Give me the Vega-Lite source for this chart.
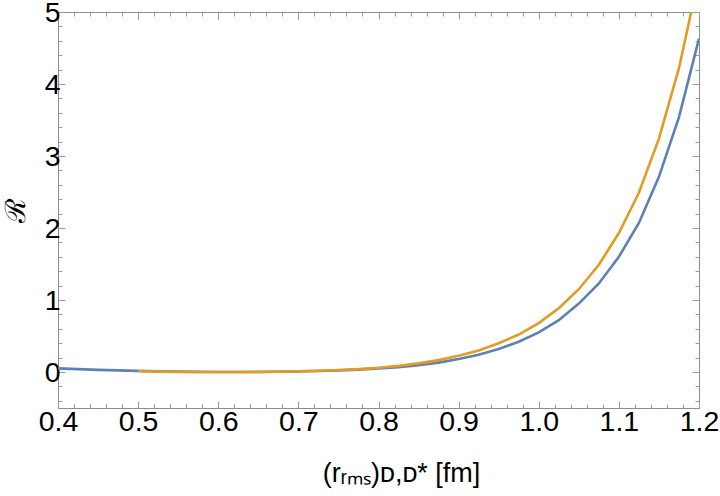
{
  "$schema": "https://vega.github.io/schema/vega-lite/v6.json",
  "width": 641,
  "height": 396,
  "autosize": {"type": "none"},
  "padding": {"left": 58, "top": 12, "right": 21, "bottom": 88},
  "background": "white",
  "config": {
    "view": {"stroke": "#8c8c8c", "strokeWidth": 1},
    "axis": {
      "domain": false,
      "grid": false,
      "tickColor": "#9a9a9a",
      "tickWidth": 1,
      "labelFont": "Liberation Sans",
      "labelFontSize": 28.5,
      "labelColor": "#000000",
      "titleColor": "#000000",
      "titleFontWeight": "normal"
    }
  },
  "datasets": {
    "blue": [
      {"x": 0.4, "R": 0.05}, {"x": 0.425, "R": 0.04}, {"x": 0.45, "R": 0.03}, {"x": 0.475, "R": 0.022},
      {"x": 0.5, "R": 0.015}, {"x": 0.525, "R": 0.009}, {"x": 0.55, "R": 0.005}, {"x": 0.575, "R": 0.002},
      {"x": 0.6, "R": 0.0}, {"x": 0.625, "R": 0.0}, {"x": 0.65, "R": 0.001}, {"x": 0.675, "R": 0.004},
      {"x": 0.7, "R": 0.008}, {"x": 0.725, "R": 0.014}, {"x": 0.75, "R": 0.022}, {"x": 0.775, "R": 0.033},
      {"x": 0.8, "R": 0.048}, {"x": 0.825, "R": 0.068}, {"x": 0.85, "R": 0.095}, {"x": 0.875, "R": 0.13},
      {"x": 0.9, "R": 0.18}, {"x": 0.925, "R": 0.24}, {"x": 0.95, "R": 0.32}, {"x": 0.975, "R": 0.42},
      {"x": 1.0, "R": 0.55}, {"x": 1.025, "R": 0.72}, {"x": 1.05, "R": 0.95}, {"x": 1.075, "R": 1.23},
      {"x": 1.1, "R": 1.6}, {"x": 1.125, "R": 2.07}, {"x": 1.15, "R": 2.71}, {"x": 1.175, "R": 3.54},
      {"x": 1.2, "R": 4.63}
    ],
    "orange": [
      {"x": 0.5, "R": 0.01}, {"x": 0.525, "R": 0.005}, {"x": 0.55, "R": 0.002}, {"x": 0.575, "R": 0.0},
      {"x": 0.6, "R": 0.0}, {"x": 0.625, "R": 0.0}, {"x": 0.65, "R": 0.002}, {"x": 0.675, "R": 0.005},
      {"x": 0.7, "R": 0.01}, {"x": 0.725, "R": 0.017}, {"x": 0.75, "R": 0.027}, {"x": 0.775, "R": 0.04},
      {"x": 0.8, "R": 0.06}, {"x": 0.825, "R": 0.085}, {"x": 0.85, "R": 0.12}, {"x": 0.875, "R": 0.165},
      {"x": 0.9, "R": 0.225}, {"x": 0.925, "R": 0.3}, {"x": 0.95, "R": 0.4}, {"x": 0.975, "R": 0.52},
      {"x": 1.0, "R": 0.68}, {"x": 1.025, "R": 0.885}, {"x": 1.05, "R": 1.15}, {"x": 1.075, "R": 1.49},
      {"x": 1.1, "R": 1.93}, {"x": 1.125, "R": 2.49}, {"x": 1.15, "R": 3.24}, {"x": 1.175, "R": 4.22},
      {"x": 1.2, "R": 5.5}
    ]
  },
  "resolve": {"axis": {"x": "independent", "y": "independent"}},
  "layer": [
    {
      "data": {"name": "blue"},
      "mark": {"type": "line", "color": "#5e81b5", "strokeWidth": 2.6, "clip": true},
      "encoding": {
        "x": {
          "field": "x", "type": "quantitative",
          "scale": {"domain": [0.4, 1.2], "nice": false, "zero": false},
          "axis": {
            "orient": "bottom",
            "title": "(rᵣₘₛ)ᴅ,ᴅ* [fm]",
            "titleFont": "Liberation Sans",
            "titleFontSize": 27,
            "titlePadding": 22,
            "titleX": 343,
            "values": [0.4,0.42,0.44,0.46,0.48,0.5,0.52,0.54,0.56,0.58,0.6,0.62,0.64,0.66,0.68,0.7,0.72,0.74,0.76,0.78,0.8,0.82,0.84,0.86,0.88,0.9,0.92,0.94,0.96,0.98,1.0,1.02,1.04,1.06,1.08,1.1,1.12,1.14,1.16,1.18,1.2],
            "labelExpr": "abs(datum.value*10 - round(datum.value*10)) < 1e-6 ? format(datum.value, '.1f') : ''",
            "tickSize": {"condition": {"test": "abs(datum.value*10 - round(datum.value*10)) < 1e-6", "value": -7}, "value": -4},
            "labelPadding": 6,
            "labelOverlap": false,
            "labelFlush": false
          }
        },
        "y": {
          "field": "R", "type": "quantitative",
          "scale": {"domain": [-0.5, 5], "nice": false, "zero": false},
          "axis": {
            "orient": "left",
            "title": "ℛ",
            "titleFont": "DejaVu Serif",
            "titleFontSize": 28,
            "titlePadding": 14,
            "values": [-0.4,-0.2,0,0.2,0.4,0.6,0.8,1,1.2,1.4,1.6,1.8,2,2.2,2.4,2.6,2.8,3,3.2,3.4,3.6,3.8,4,4.2,4.4,4.6,4.8,5],
            "labelExpr": "abs(datum.value - round(datum.value)) < 1e-6 ? format(datum.value, 'd') : ''",
            "tickSize": {"condition": {"test": "abs(datum.value - round(datum.value)) < 1e-6", "value": -7}, "value": -4},
            "labelPadding": 5,
            "labelOverlap": false,
            "labelFlush": false
          }
        }
      }
    },
    {
      "data": {"name": "orange"},
      "mark": {"type": "line", "color": "#e19c24", "strokeWidth": 2.6, "clip": true},
      "encoding": {
        "x": {
          "field": "x", "type": "quantitative",
          "scale": {"domain": [0.4, 1.2], "nice": false, "zero": false},
          "axis": {
            "orient": "top",
            "title": null,
            "labels": false,
            "values": [0.4,0.42,0.44,0.46,0.48,0.5,0.52,0.54,0.56,0.58,0.6,0.62,0.64,0.66,0.68,0.7,0.72,0.74,0.76,0.78,0.8,0.82,0.84,0.86,0.88,0.9,0.92,0.94,0.96,0.98,1.0,1.02,1.04,1.06,1.08,1.1,1.12,1.14,1.16,1.18,1.2],
            "tickSize": {"condition": {"test": "abs(datum.value*10 - round(datum.value*10)) < 1e-6", "value": -7}, "value": -4}
          }
        },
        "y": {
          "field": "R", "type": "quantitative",
          "scale": {"domain": [-0.5, 5], "nice": false, "zero": false},
          "axis": {
            "orient": "right",
            "title": null,
            "labels": false,
            "values": [-0.4,-0.2,0,0.2,0.4,0.6,0.8,1,1.2,1.4,1.6,1.8,2,2.2,2.4,2.6,2.8,3,3.2,3.4,3.6,3.8,4,4.2,4.4,4.6,4.8,5],
            "tickSize": {"condition": {"test": "abs(datum.value - round(datum.value)) < 1e-6", "value": -7}, "value": -4}
          }
        }
      }
    }
  ]
}
